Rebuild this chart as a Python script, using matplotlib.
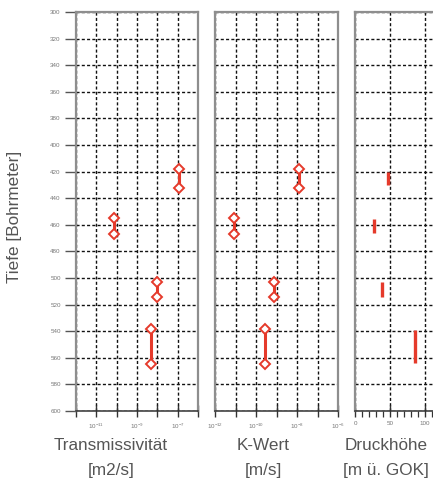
import matplotlib
matplotlib.use("Agg")
import matplotlib.pyplot as plt
from matplotlib.ticker import FixedLocator, FuncFormatter, MultipleLocator
import numpy as np

# ---- data ----
depth_top = [418, 455, 503, 538]
depth_bot = [432, 467, 514, 565]
transmissivity = [1.2e-7, 7.4e-11, 9.3e-9, 4.7e-9]   # m2/s
k_value = [1.2e-8, 8.5e-12, 7.8e-10, 2.8e-10]        # m/s
head_top = [420, 456, 503, 539]
head_bot = [430, 466, 514, 564]
head = [47.6, 27, 39, 86]                             # m ü. GOK

y_ticks = list(range(300, 601, 20))
log_ticks = [1e-12, 1e-11, 1e-10, 1e-9, 1e-8, 1e-7, 1e-6]
t_labels = {-11: r"$10^{-11}$", -9: r"$10^{-9}$", -7: r"$10^{-7}$"}
k_labels = {-12: r"$10^{-12}$", -10: r"$10^{-10}$", -8: r"$10^{-8}$", -6: r"$10^{-6}$"}

RED = "#e53a2b"
FRAME = "#8e8e8e"
TXT = "#555555"

W, H = 433, 483
fig = plt.figure(figsize=(W / 100, H / 100), dpi=100)
plt.rcParams['font.family'] = ['Liberation Sans', 'DejaVu Sans']
plt.rcParams['mathtext.fontset'] = 'custom'
plt.rcParams['mathtext.rm'] = 'Liberation Sans'


def px_axes(x0, x1, y0, y1):
    return fig.add_axes([x0 / W, 1 - y1 / H, (x1 - x0) / W, (y1 - y0) / H])


def style(ax):
    ax.set_ylim(600, 300)
    ax.yaxis.set_major_locator(FixedLocator(y_ticks))
    ax.grid(True, which='major', color='#111111', linestyle=(0, (2.2, 1.6)), linewidth=1.0)
    for s in ['left', 'right', 'top']:
        ax.spines[s].set_color(FRAME)
        ax.spines[s].set_linewidth(1.6)
    ax.spines['bottom'].set_color('#333333')
    ax.spines['bottom'].set_linewidth(1.1)
    ax.tick_params(axis='x', which='major', direction='inout', length=9, width=1.0,
                   color='#333333', labelsize=4.5, labelcolor='#777777', pad=3)
    ax.tick_params(axis='x', which='minor', direction='out', length=4, width=0.9,
                   color='#333333')
    ax.set_axisbelow(True)


def fmt(labels):
    def f(v, pos):
        e = int(round(np.log10(v)))
        return labels.get(e, "")
    return FuncFormatter(f)


MK = dict(marker='D', ms=4.6, mfc='white', mec=RED, mew=1.4)

# Panel 1: Transmissivität
ax1 = px_axes(76, 198, 12, 411)
ax1.set_xscale('log')
ax1.set_xlim(1e-12, 1e-6)
style(ax1)
ax1.xaxis.set_major_locator(FixedLocator(log_ticks))
ax1.xaxis.set_minor_locator(FixedLocator([]))
ax1.xaxis.set_major_formatter(fmt(t_labels))
ax1.tick_params(axis='y', direction='out', length=8, width=1.0, color='#555555',
                labelsize=4.5, labelcolor='#777777', pad=3)
for x, a, b in zip(transmissivity, depth_top, depth_bot):
    ax1.plot([x, x], [a, b], color=RED, lw=2.2, zorder=5, **MK)

# Panel 2: K-Wert
ax2 = px_axes(215, 338, 12, 411)
ax2.set_xscale('log')
ax2.set_xlim(1e-12, 1e-6)
style(ax2)
ax2.xaxis.set_major_locator(FixedLocator(log_ticks))
ax2.xaxis.set_minor_locator(FixedLocator([]))
ax2.xaxis.set_major_formatter(fmt(k_labels))
ax2.tick_params(axis='y', left=False, labelleft=False)
for x, a, b in zip(k_value, depth_top, depth_bot):
    ax2.plot([x, x], [a, b], color=RED, lw=2.2, zorder=5, **MK)

# Panel 3: Druckhöhe (cut off at the right edge)
ax3 = px_axes(355, 477, 12, 411)
ax3.set_xlim(0, 175)
style(ax3)
ax3.xaxis.set_major_locator(FixedLocator([0, 50, 100, 150]))
ax3.xaxis.set_minor_locator(MultipleLocator(10))
ax3.tick_params(axis='y', left=False, labelleft=False)
for x, a, b in zip(head, head_top, head_bot):
    ax3.plot([x, x], [a, b], color=RED, lw=2.4, solid_capstyle='butt', zorder=5)

# Texts
fs = 12.3
kw = dict(ha='center', va='center', fontsize=fs, color=TXT)
fig.text(111 / W, 1 - 445 / H, "Transmissivität", **kw)
fig.text(111 / W, 1 - 471 / H, "[m2/s]", **kw)
fig.text(263 / W, 1 - 445 / H, "K-Wert", **kw)
fig.text(263 / W, 1 - 471 / H, "[m/s]", **kw)
fig.text(386 / W, 1 - 445 / H, "Druckhöhe", **kw)
fig.text(386 / W, 1 - 471 / H, "[m ü. GOK]", **kw)
fig.text(15 / W, 1 - 217 / H, "Tiefe [Bohrmeter]", rotation=90, **kw)

fig.savefig("out.png", dpi=100)
